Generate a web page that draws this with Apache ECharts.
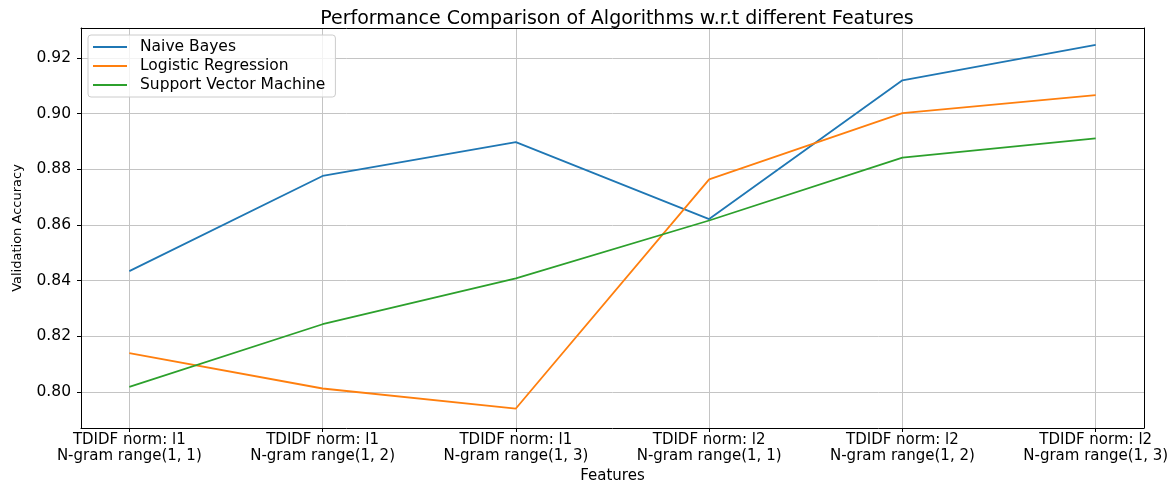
<!DOCTYPE html>
<html>
<head>
<meta charset="utf-8">
<script src="https://cdn.jsdelivr.net/npm/echarts@6/dist/echarts.min.js"></script>
<style>html,body{margin:0;padding:0;background:#fff;}#c{width:1176px;height:482px;}</style>
</head>
<body>
<div id="c"></div>
<script>
const categories = [
  "TDIDF norm: l1\nN-gram range(1, 1)",
  "TDIDF norm: l1\nN-gram range(1, 2)",
  "TDIDF norm: l1\nN-gram range(1, 3)",
  "TDIDF norm: l2\nN-gram range(1, 1)",
  "TDIDF norm: l2\nN-gram range(1, 2)",
  "TDIDF norm: l2\nN-gram range(1, 3)"
];
const naiveBayes = [0.8434, 0.8776, 0.8898, 0.8621, 0.9120, 0.9247];
const logisticRegression = [0.8139, 0.8012, 0.7940, 0.8764, 0.9002, 0.9067];
const svm = [0.8018, 0.8243, 0.8408, 0.8616, 0.8842, 0.8911];
const yTicks = [0.80, 0.82, 0.84, 0.86, 0.88, 0.90, 0.92];
const seriesNames = ["Naive Bayes", "Logistic Regression", "Support Vector Machine"];

const FONT = "DejaVu Sans";
const xIdx = categories.map((_, i) => i);
function pairs(arr){ return arr.map((v,i)=>[i,v]); }

const X_MIN = -0.25, X_MAX = 5.25, Y_MIN = 0.7870, Y_MAX = 0.9308;
const frameAxis = {
  axisLine: {show: true, onZero: false, lineStyle: {color: '#000', width: 1}},
  axisTick: {show: false}, axisLabel: {show: false}, splitLine: {show: false}
};

const chart = echarts.init(document.getElementById('c'), null, {renderer:'canvas'});
chart.setOption({
  animation: false,
  backgroundColor: '#fff',
  title: {
    text: 'Performance Comparison of Algorithms w.r.t different Features',
    left: 612, top: 5, textAlign: 'center',
    textStyle: {fontFamily: FONT, fontSize: 19, fontWeight: 'normal', color: '#000'}
  },
  legend: {
    orient: 'vertical', left: 88, top: 35,
    data: seriesNames,
    icon: 'rect', itemWidth: 34, itemHeight: 2, itemGap: 3,
    padding: [4, 10, 4, 5],
    backgroundColor: 'rgba(255,255,255,0.8)', borderColor: '#cccccc', borderWidth: 1, borderRadius: 3,
    textStyle: {fontFamily: FONT, fontSize: 15.5, color: '#000', lineHeight: 16, padding: [0,0,0,8]}
  },
  grid: {left: 81, right: 32, top: 28, bottom: 54, containLabel: false, outerBoundsMode: 'none'},
  xAxis: [{
    type: 'value', min: X_MIN, max: X_MAX,
    name: 'Features', nameLocation: 'middle', nameGap: 38,
    nameTextStyle: {fontFamily: FONT, fontSize: 15, color: '#000'},
    axisLine: {show: true, onZero: false, lineStyle: {color: '#000', width: 1}},
    axisTick: {show: true, customValues: xIdx, length: 4, lineStyle: {color: '#000'}},
    axisLabel: {customValues: xIdx, margin: 4, fontFamily: FONT, fontSize: 15, color: '#000', lineHeight: 16,
      formatter: v => categories[Math.round(v)] || ''},
    splitLine: {show: true, lineStyle: {color: '#c4c4c4', width: 1}}
  }, Object.assign({type: 'value', position: 'top', min: X_MIN, max: X_MAX}, frameAxis)],
  yAxis: [{
    type: 'value', min: Y_MIN, max: Y_MAX,
    name: 'Validation Accuracy', nameLocation: 'middle', nameGap: 57,
    nameTextStyle: {fontFamily: FONT, fontSize: 13, color: '#000'},
    axisLine: {show: true, onZero: false, lineStyle: {color: '#000', width: 1}},
    axisTick: {show: true, customValues: yTicks, length: 4, lineStyle: {color: '#000'}},
    axisLabel: {customValues: yTicks, margin: 10, fontFamily: FONT, fontSize: 15.5, color: '#000',
      formatter: v => v.toFixed(2)},
    splitLine: {show: true, lineStyle: {color: '#c4c4c4', width: 1}}
  }, Object.assign({type: 'value', position: 'right', min: Y_MIN, max: Y_MAX}, frameAxis)],
  series: [
    {name: seriesNames[0], type: 'line', data: pairs(naiveBayes), showSymbol: false, symbol: 'none', lineStyle: {color: '#1f77b4', width: 1.8}, itemStyle: {color: '#1f77b4'}},
    {name: seriesNames[1], type: 'line', data: pairs(logisticRegression), showSymbol: false, symbol: 'none', lineStyle: {color: '#ff7f0e', width: 1.8}, itemStyle: {color: '#ff7f0e'}},
    {name: seriesNames[2], type: 'line', data: pairs(svm), showSymbol: false, symbol: 'none', lineStyle: {color: '#2ca02c', width: 1.8}, itemStyle: {color: '#2ca02c'}}
  ]
});
</script>
</body>
</html>
